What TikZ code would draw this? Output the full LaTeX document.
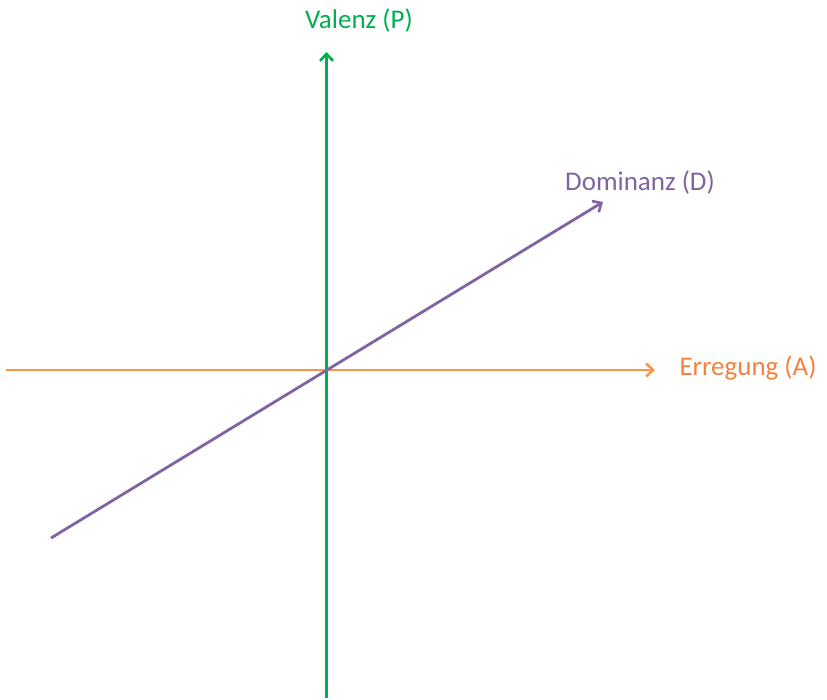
\documentclass[tikz,border=0pt]{standalone}
\usepackage{fontspec}
\setmainfont{Carlito}
\usetikzlibrary{arrows.meta}
\definecolor{vgreen}{HTML}{00B050}
\definecolor{aorange}{HTML}{F79646}
\definecolor{aorangetext}{HTML}{F5813F}
\definecolor{dpurple}{HTML}{8064A2}
\begin{document}
\begin{tikzpicture}[x=1pt,y=-1pt,
  axis/.style={line width=2.8pt,-{Straight Barb[length=7pt,width=13pt,line width=2.6pt]}},
  lab/.style={font=\fontsize{27}{32}\selectfont,inner sep=0pt}]
\useasboundingbox (0,0) rectangle (827,699);
\coordinate (pb) at (326.5,698);
\coordinate (pt) at (326.5,52);
\coordinate (al) at (6,370);
\coordinate (ar) at (655,370);
\coordinate (dl) at (51,538);
\coordinate (dr) at (603,202);
\draw[axis,vgreen] (pb) -- (pt);
\draw[axis,aorange] (al) -- (ar);
\draw[axis,dpurple] (dl) -- (dr);
\node[lab,text=vgreen] (lp) at (359,20) {Valenz (P)};
\node[lab,text=dpurple] (ld) at (640,182) {Dominanz (D)};
\node[lab,text=aorangetext] (la) at (748,368) {Erregung (A)};
\end{tikzpicture}
\end{document}
